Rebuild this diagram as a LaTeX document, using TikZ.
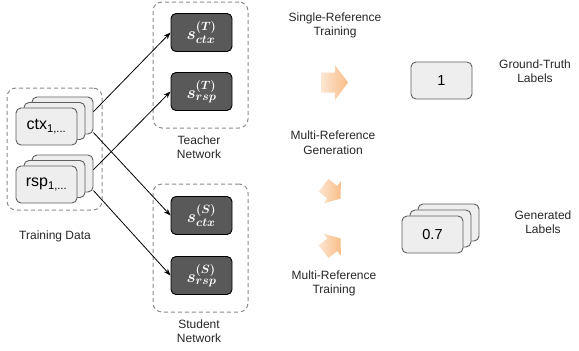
\documentclass[tikz,border=0pt]{standalone}
\usepackage{fontspec}
\setmainfont{Liberation Sans}
\usepackage{amsmath}
\usepackage{bm}
\usetikzlibrary{calc,arrows.meta}

\definecolor{framegray}{HTML}{8C8C8C}
\definecolor{boxfill}{HTML}{EEEEEE}
\definecolor{boxedge}{HTML}{5E5E5E}
\definecolor{darkfill}{HTML}{595959}
\definecolor{peachlight}{HTML}{FCE6D2}
\definecolor{peachdark}{HTML}{F9BD86}

\tikzset{
  group/.style={draw=framegray, dash pattern=on 4pt off 3pt, line width=1pt,
    rounded corners=9pt, inner sep=0pt},
  databox/.style={draw=boxedge, fill=boxfill, line width=0.9pt, rounded corners=5pt,
    minimum width=61pt, minimum height=37pt, inner sep=0pt,
    font=\fontsize{16}{18}\selectfont},
  netbox/.style={draw=black, fill=darkfill, line width=0.9pt, rounded corners=5pt,
    minimum width=61pt, minimum height=38pt, inner sep=0pt, text=white,
    font=\fontsize{16.5}{18}\selectfont},
  caption/.style={align=center, font=\fontsize{12}{14.5}\selectfont, text=black!85},
  flow/.style={-{Stealth[length=7pt,width=5pt]}, line width=0.8pt},
  stagearrow/.style={left color=peachlight, right color=peachdark, draw=none},
}

\newcommand{\seqlabel}[1]{#1\textsubscript{1,...}}
% block arrow pointing along +x, centred on the origin
\newcommand{\blockarrow}{%
  \path[stagearrow] (-13.5,-10) -- (0.5,-10) -- (0.5,-17.5) -- (13.5,0)
    -- (0.5,17.5) -- (0.5,10) -- (-13.5,10) -- cycle;}

\begin{document}
\begin{tikzpicture}[x=1pt,y=-1pt]
\useasboundingbox (0,0) rectangle (579,351);

% training data
\node[group, minimum width=95pt, minimum height=122pt] (train) at (54.5,149) {};
\node[databox] (ctxC) at (62.5,115.5) {};
\node[databox] (ctxB) at (54.5,121) {};
\node[databox] (ctx) at (46.5,126.5) {\seqlabel{ctx}};
\node[databox] (rspC) at (62.5,173.5) {};
\node[databox] (rspB) at (54.5,179) {};
\node[databox] (rsp) at (46.5,184.5) {\seqlabel{rsp}};
\node[caption] (trainlbl) at (55,236) {Training Data};

% teacher network
\node[group, minimum width=95pt, minimum height=126pt] (teacher) at (200.5,65) {};
\node[netbox] (tctx) at (201.5,32.5) {$\bm{s^{(T)}_{ctx}}$};
\node[netbox] (trsp) at (201.5,91.5) {$\bm{s^{(T)}_{rsp}}$};
\node[caption] (teachlbl) at (199,147) {Teacher\\Network};

% student network
\node[group, minimum width=95pt, minimum height=128pt] (student) at (200.5,248) {};
\node[netbox] (sctx) at (201.5,215.5) {$\bm{s^{(S)}_{ctx}}$};
\node[netbox] (srsp) at (201.5,275.5) {$\bm{s^{(S)}_{rsp}}$};
\node[caption] (studlbl) at (199,331) {Student\\Network};

% connectors
\draw[flow] ($(ctxC.north east)!0.4!(ctxC.south east)$) -- (tctx.west);
\draw[flow] ($(ctxC.north east)!0.95!(ctxC.south east)$) -- (sctx.west);
\draw[flow] ($(rspC.north east)!0.4!(rspC.south east)$) -- (trsp.west);
\draw[flow] ($(rspC.north east)!0.95!(rspC.south east)$) -- (srsp.west);

% stages
\node[caption] (single) at (335,25.5) {Single-Reference\\Training};
\begin{scope}[shift={(334.5,82.5)}] \blockarrow \end{scope}
\node[caption] (multigen) at (333,142.5) {Multi-Reference\\Generation};
\begin{scope}[shift={(332,192)}, rotate=-38, scale=0.8] \blockarrow \end{scope}
\begin{scope}[shift={(332,245)}, rotate=38, scale=0.8] \blockarrow \end{scope}
\node[caption] (multitrain) at (334,283.5) {Multi-Reference\\Training};

% labels
\node[databox, font=\fontsize{14.5}{16}\selectfont] (gt) at (441.5,80.5) {1};
\node[caption] (gtlbl) at (535,71) {Ground-Truth\\Labels};
\node[databox] (genC) at (448.5,222.5) {};
\node[databox] (genB) at (440.5,228.5) {};
\node[databox, font=\fontsize{14.5}{16}\selectfont] (gen) at (432.5,234.5) {0.7};
\node[caption] (genlbl) at (543,222) {Generated\\Labels};
\end{tikzpicture}
\end{document}
